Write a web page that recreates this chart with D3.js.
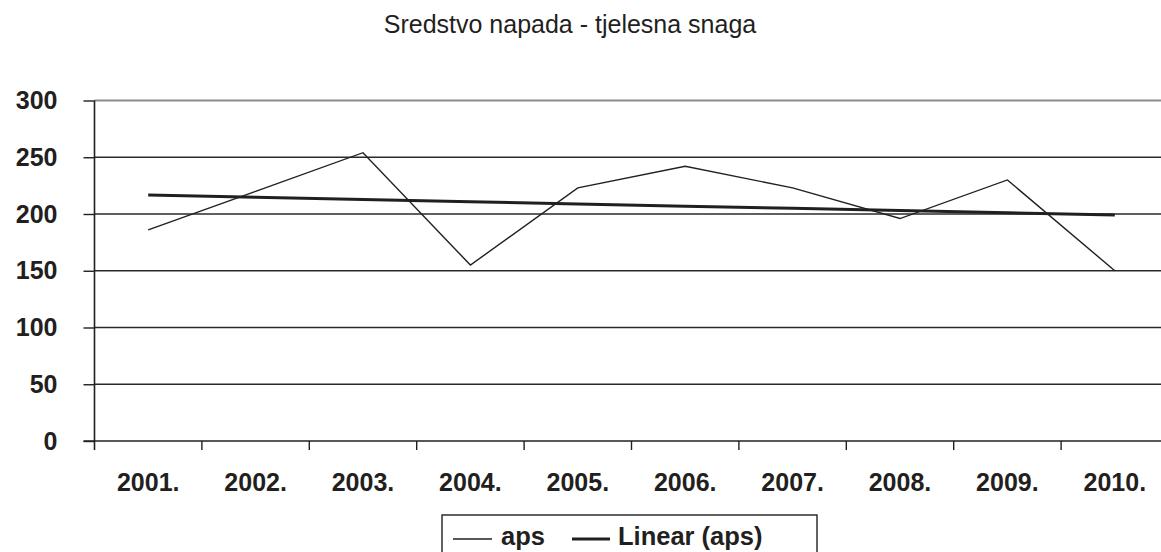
<!DOCTYPE html>
<html>
<head>
<meta charset="utf-8">
<script src="https://cdn.jsdelivr.net/npm/d3@7"></script>
<style>
  body { margin: 0; background: #fff; }
  svg { display: block; font-family: "Liberation Sans", Arial, sans-serif; }
</style>
</head>
<body>
<svg id="chart" width="1161" height="552"></svg>
<script>
const years = ['2001.', '2002.', '2003.', '2004.', '2005.', '2006.', '2007.', '2008.', '2009.', '2010.'];
const aps = [186, 220, 254, 155, 223, 242, 223, 196, 230, 150];
const yTicks = [0, 50, 100, 150, 200, 250, 300];
const title = 'Sredstvo napada - tjelesna snaga';
const legendLabels = ['aps', 'Linear (aps)'];

const ink = '#231f20';
const plotLeft = 94.5;
const bandW = 107.4;
const plotTop = 100.5;
const plotBottom = 441;

const svg = d3.select('#chart');

const x = d3.scaleBand().domain(years).range([plotLeft, plotLeft + bandW * years.length]).padding(0);
const y = d3.scaleLinear().domain([0, 300]).range([plotBottom, plotTop]);

// trend line from least squares fit
const n = aps.length;
const mx = (n - 1) / 2;
const my = d3.mean(aps);
const slope = d3.sum(aps, (v, i) => (i - mx) * (v - my)) / d3.sum(aps, (v, i) => (i - mx) * (i - mx));
const trend = aps.map((v, i) => my + slope * (i - mx));

// title
svg.append('text')
  .attr('x', 570).attr('y', 33)
  .attr('text-anchor', 'middle')
  .attr('fill', ink)
  .style('font-size', '25px')
  .text(title);

// gridlines
svg.append('g')
  .selectAll('line')
  .data(yTicks.filter(d => d > 0))
  .enter().append('line')
  .attr('x1', plotLeft).attr('x2', 1161)
  .attr('y1', d => y(d)).attr('y2', d => y(d))
  .attr('stroke', d => d === 300 ? '#8a8a8a' : '#2a2a2a')
  .attr('stroke-width', d => d === 300 ? 2 : 1.4);

// y axis
const yAxis = d3.axisLeft(y).tickValues(yTicks).tickSize(11).tickPadding(26);
const gy = svg.append('g')
  .attr('transform', `translate(${plotLeft},0)`)
  .call(yAxis);
gy.select('.domain').remove();
gy.selectAll('.tick line').attr('stroke', ink).attr('stroke-width', 1.4);
gy.selectAll('.tick text')
  .attr('fill', ink)
  .style('font-size', '25px')
  .style('font-weight', 'bold')
  .style('font-family', '"Liberation Sans", Arial, sans-serif');

svg.append('line')
  .attr('x1', plotLeft).attr('x2', plotLeft)
  .attr('y1', plotTop).attr('y2', plotBottom + 9)
  .attr('stroke', ink).attr('stroke-width', 1.6);

// x axis
const xAxis = d3.axisBottom(x).tickSize(0).tickPadding(32);
const gx = svg.append('g')
  .attr('transform', `translate(0,${plotBottom})`)
  .call(xAxis);
gx.select('.domain').remove();
gx.selectAll('.tick text')
  .attr('fill', ink)
  .style('font-size', '25px')
  .style('font-weight', 'bold')
  .style('font-family', '"Liberation Sans", Arial, sans-serif');

svg.append('line')
  .attr('x1', plotLeft - 11).attr('x2', 1161)
  .attr('y1', plotBottom).attr('y2', plotBottom)
  .attr('stroke', ink).attr('stroke-width', 1.6);

svg.append('g')
  .selectAll('line')
  .data(years.slice(1))
  .enter().append('line')
  .attr('x1', d => x(d)).attr('x2', d => x(d))
  .attr('y1', plotBottom).attr('y2', plotBottom + 9)
  .attr('stroke', ink).attr('stroke-width', 1.4);

const cx = d => x(d) + x.bandwidth() / 2;

// data line
const line = d3.line()
  .x((d, i) => cx(years[i]))
  .y(d => y(d));

svg.append('path')
  .datum(aps)
  .attr('d', line)
  .attr('fill', 'none')
  .attr('stroke', ink)
  .attr('stroke-width', 1.4);

// trend line
svg.append('path')
  .datum(trend)
  .attr('d', line)
  .attr('fill', 'none')
  .attr('stroke', ink)
  .attr('stroke-width', 3);

// legend
const lg = svg.append('g');
lg.append('rect')
  .attr('x', 442).attr('y', 515)
  .attr('width', 375).attr('height', 60)
  .attr('fill', '#fff')
  .attr('stroke', ink).attr('stroke-width', 1.4);

const items = [
  { x1: 453, x2: 492, tx: 501, w: 1.4, label: legendLabels[0] },
  { x1: 572, x2: 610, tx: 618, w: 3, label: legendLabels[1] }
];
items.forEach(it => {
  lg.append('line')
    .attr('x1', it.x1).attr('x2', it.x2)
    .attr('y1', 539).attr('y2', 539)
    .attr('stroke', ink).attr('stroke-width', it.w);
  lg.append('text')
    .attr('x', it.tx).attr('y', 545)
    .attr('fill', ink)
    .style('font-size', '25.5px')
    .style('font-weight', 'bold')
    .text(it.label);
});
</script>
</body>
</html>
